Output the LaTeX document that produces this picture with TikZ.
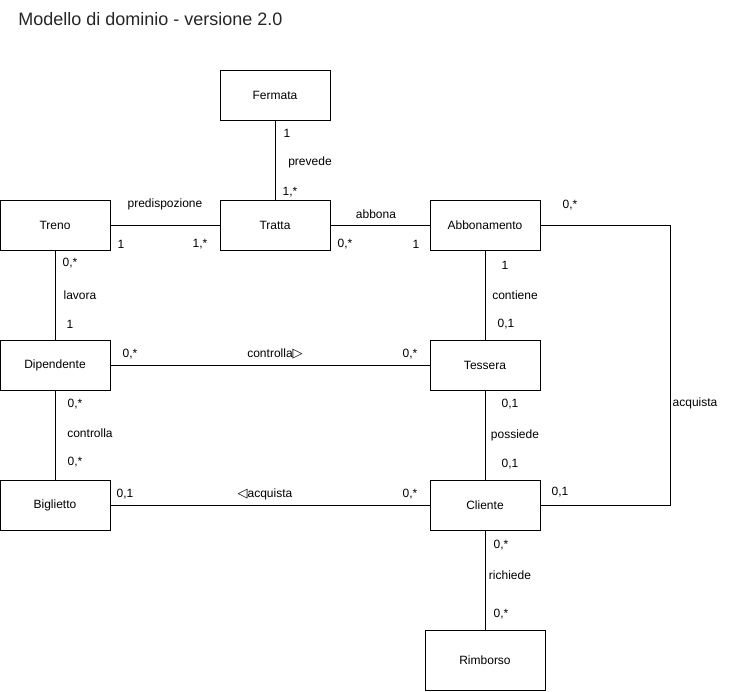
\documentclass[tikz,border=0pt]{standalone}
\usepackage{fontspec}
\setmainfont{Liberation Sans}
\newfontfamily\symfont{DejaVu Sans}
\begin{document}
\begin{tikzpicture}[x=1pt, y=-1pt, line width=0.8pt,
    entity/.style={draw, rectangle, minimum width=110pt, minimum height=50pt, inner sep=0pt, font=\fontsize{12}{14}\selectfont},
    lab/.style={inner sep=0pt, font=\fontsize{12}{14}\selectfont}]
			%%%%% START %%%%%
			\useasboundingbox (0, 0) rectangle (731, 691);
			
			\node[inner sep=0pt, anchor=west, font=\fontsize{18}{21}\selectfont, text=black!85] (title) at (18, 19) {Modello di dominio - versione 2.0};
			
			\node[entity] (fermata) at (275, 95) {Fermata};
			\node[entity] (treno) at (55, 225) {Treno};
			\node[entity] (tratta) at (275, 225) {Tratta};
			\node[entity] (abbonamento) at (485, 225) {Abbonamento};
			\node[entity] (dipendente) at (55, 365) {Dipendente};
			\node[entity] (tessera) at (485, 365) {Tessera};
			\node[entity] (biglietto) at (55, 505) {Biglietto};
			\node[entity] (cliente) at (485, 505) {Cliente};
			\node[entity, minimum width=120pt, minimum height=60pt] (rimborso) at (485, 660) {Rimborso};
			
			\draw (fermata) -- (tratta);
			\node[lab] (m1) at (287, 133) {1};
			\node[lab] (prevede) at (310, 162) {prevede};
			\node[lab] (m2) at (290, 192) {1,*};
			
			\draw (treno) -- (tratta);
			\node[lab] (predispozione) at (165, 204) {predispozione};
			\node[lab] (m3) at (121, 244) {1};
			\node[lab] (m4) at (200, 244) {1,*};
			
			\draw (tratta) -- (abbonamento);
			\node[lab] (abbona) at (376, 214) {abbona};
			\node[lab] (m5) at (345, 244) {0,*};
			\node[lab] (m6) at (416, 244) {1};
			
			\draw (treno) -- (dipendente);
			\node[lab] (m7) at (70, 263) {0,*};
			\node[lab] (lavora) at (80, 295) {lavora};
			\node[lab] (m8) at (70, 324) {1};
			
			\draw (abbonamento) -- (tessera);
			\node[lab] (m9) at (505, 265) {1};
			\node[lab] (contiene) at (515, 295) {contiene};
			\node[lab] (m10) at (506, 324) {0,1};
			
			\draw (dipendente) -- (tessera);
			\node[lab] (m11) at (130, 354) {0,*};
			\node[lab] (controlla1) at (275, 354) {controlla{\symfont\fontsize{13}{14}\selectfont▷}};
			\node[lab] (m12) at (410, 354) {0,*};
			
			\draw (dipendente) -- (biglietto);
			\node[lab] (m13) at (75, 404) {0,*};
			\node[lab] (controlla2) at (90, 433) {controlla};
			\node[lab] (m14) at (75, 462) {0,*};
			
			\draw (tessera) -- (cliente);
			\node[lab] (m15) at (510, 404) {0,1};
			\node[lab] (possiede) at (515, 435) {possiede};
			\node[lab] (m16) at (510, 464) {0,1};
			
			\draw (biglietto) -- (cliente);
			\node[lab] (m17) at (125, 494) {0,1};
			\node[lab] (acquista1) at (265, 494) {{\symfont\fontsize{13}{14}\selectfont◁}acquista};
			\node[lab] (m18) at (410, 494) {0,*};
			
			\draw (cliente) -- (rimborso);
			\node[lab] (m19) at (501, 545) {0,*};
			\node[lab] (richiede) at (510, 575) {richiede};
			\node[lab] (m20) at (501, 614) {0,*};
			
			\draw (abbonamento.east) -- ++(130, 0) |- (cliente.east);
			\node[lab] (m21) at (570, 205) {0,*};
			\node[lab] (acquista2) at (695, 403) {acquista};
			\node[lab] (m22) at (560, 492) {0,1};
			
			%%%%% END %%%%%
\end{tikzpicture}
\end{document}
